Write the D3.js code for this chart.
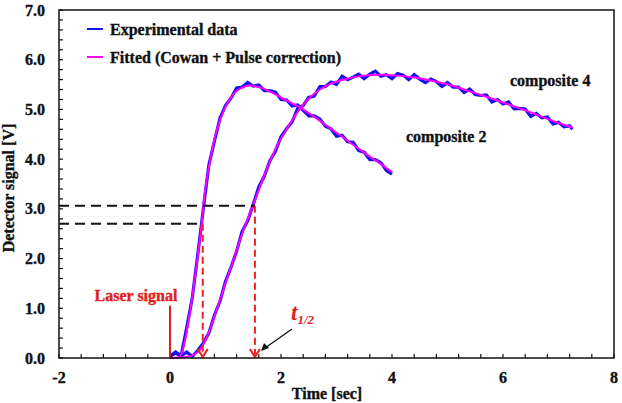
<!DOCTYPE html>
<html lang="en">
<head>
<meta charset="UTF-8">
<title>Detector signal vs time</title>
<script src="https://d3js.org/d3.v7.min.js"></script>
<style>
  body { margin: 0; background: #fff; }
  svg { display: block; font-family: 'Liberation Serif', 'Times New Roman', serif; }
  .tick-label, .lbl { font-size: 16px; font-weight: 700; fill: #111; stroke: #111; stroke-width: 0.35px; }
</style>
</head>
<body>
<svg id="chart" width="622" height="403"></svg>
<script>
// fitted curves (Cowan + pulse correction)
const fitTime2 = [0, 0.15, 0.21, 0.27, 0.35, 0.42, 0.5, 0.57, 0.63, 0.72, 0.8, 0.9, 1.0, 1.1, 1.2, 1.3, 1.45, 1.6, 1.8, 2.0, 2.2, 2.37, 2.6, 2.8, 3.0, 3.2, 3.4, 3.6, 3.8, 4.0];
const fitValue2 = [0, 0, 0.1, 0.36, 0.85, 1.37, 2.05, 2.7, 3.35, 3.95, 4.4, 4.78, 5.05, 5.25, 5.37, 5.44, 5.48, 5.45, 5.36, 5.24, 5.12, 5.02, 4.85, 4.69, 4.53, 4.37, 4.21, 4.05, 3.9, 3.74];

const fitTime4 = [0, 0.3, 0.45, 0.55, 0.7, 0.85, 1.0, 1.15, 1.3, 1.5, 1.7, 1.9, 2.1, 2.3, 2.5, 2.7, 2.9, 3.2, 3.5, 3.8, 4.1, 4.4, 4.7, 5.0, 5.3, 5.6, 5.9, 6.2, 6.5, 6.8, 7.05, 7.25];
const fitValue4 = [0, 0.02, 0.08, 0.18, 0.52, 1.0, 1.5, 2.0, 2.5, 3.08, 3.68, 4.2, 4.6, 4.95, 5.22, 5.4, 5.52, 5.62, 5.68, 5.7, 5.68, 5.64, 5.58, 5.5, 5.4, 5.29, 5.18, 5.06, 4.94, 4.81, 4.71, 4.63];

// experimental (noisy) traces
const expTime2 = [0, 0.1, 0.2, 0.3, 0.4, 0.5, 0.6, 0.7, 0.8, 0.9, 1.0, 1.1, 1.2, 1.3, 1.4, 1.5, 1.6, 1.7, 1.8, 1.9, 2.0,
  2.1, 2.2, 2.3, 2.4, 2.5, 2.6, 2.7, 2.8, 2.9, 3.0, 3.1, 3.2, 3.3, 3.4, 3.5, 3.6, 3.7, 3.8, 3.9, 4.0];
const expValue2 = [0.04, 0.12, 0.05, 0.6, 1.2, 2.08, 3.0, 3.88, 4.36, 4.82, 5.08, 5.23, 5.43, 5.45, 5.54, 5.47, 5.49, 5.38, 5.38, 5.35, 5.2,
  5.19, 5.07, 5.09, 4.98, 4.87, 4.87, 4.81, 4.66, 4.61, 4.46, 4.48, 4.35, 4.34, 4.17, 4.14, 3.99, 3.99, 3.93, 3.77, 3.7];

const expTime4 = [0, 0.1, 0.2, 0.3, 0.4, 0.5, 0.6, 0.7, 0.8, 0.9, 1.0, 1.1, 1.2, 1.3, 1.4, 1.5, 1.6, 1.7, 1.8, 1.9, 2.0,
  2.1, 2.2, 2.3, 2.4, 2.5, 2.6, 2.7, 2.8, 2.9, 3.0, 3.1, 3.2, 3.3, 3.4, 3.5, 3.6, 3.7, 3.8, 3.9, 4.0,
  4.1, 4.2, 4.3, 4.4, 4.5, 4.6, 4.7, 4.8, 4.9, 5.0, 5.1, 5.2, 5.3, 5.4, 5.5, 5.6, 5.7, 5.8, 5.9, 6.0,
  6.1, 6.2, 6.3, 6.4, 6.5, 6.6, 6.7, 6.8, 6.9, 7.0, 7.1, 7.2, 7.25];
const expValue4 = [0.03, 0.1, 0.04, 0.12, 0.03, 0.15, 0.3, 0.5, 0.86, 1.14, 1.54, 1.83, 2.15, 2.55, 2.76, 3.09, 3.44, 3.66, 3.97, 4.16, 4.45,
  4.61, 4.75, 5.02, 5.08, 5.24, 5.27, 5.46, 5.46, 5.55, 5.5, 5.67, 5.6, 5.65, 5.71, 5.62, 5.71, 5.77, 5.67, 5.7, 5.62,
  5.72, 5.69, 5.6, 5.7, 5.61, 5.54, 5.61, 5.56, 5.46, 5.54, 5.45, 5.45, 5.34, 5.41, 5.3, 5.28, 5.29, 5.15, 5.2, 5.11,
  5.15, 5.01, 5.02, 5.01, 4.86, 4.92, 4.83, 4.85, 4.71, 4.74, 4.65, 4.67, 4.6];

const xTicks = [-2, 0, 2, 4, 6, 8];
const yTicks = [0, 1, 2, 3, 4, 5, 6, 7];

// half-rise markers
const halfLevel = [2.7, 3.06];
const halfTime = [0.59, 1.53];
const laserTime = 0;
const laserHeight = 1.05;

const svg = d3.select("#chart");
const x = d3.scaleLinear().domain([-2, 8]).range([59, 614]);
const y = d3.scaleLinear().domain([0, 7]).range([358, 10]);

const toPts = (ts, vs) => ts.map((t, i) => [t, vs[i]]);

// inner ticks
const xMinor = d3.range(-2, 8.001, 0.4);
const yMinor = d3.range(0, 7.001, 0.2);
svg.append("g").selectAll("line").data(xMinor).join("line")
  .attr("x1", d => x(d)).attr("x2", d => x(d))
  .attr("y1", y(0)).attr("y2", y(0) - 4)
  .attr("stroke", "#111").attr("stroke-width", 1.2);
svg.append("g").selectAll("line").data(yMinor).join("line")
  .attr("x1", x(-2)).attr("x2", x(-2) + 4)
  .attr("y1", d => y(d)).attr("y2", d => y(d))
  .attr("stroke", "#111").attr("stroke-width", 1.2);

// tick labels
svg.append("g").selectAll("text").data(xTicks).join("text")
  .attr("class", "tick-label").attr("x", d => x(d)).attr("y", 383)
  .attr("text-anchor", "middle").text(d => d);
svg.append("g").selectAll("text").data(yTicks).join("text")
  .attr("class", "tick-label").attr("x", 45).attr("y", d => y(d) + 5.5)
  .attr("text-anchor", "end").text(d => d3.format(".1f")(d));

// axis titles
svg.append("text").attr("class", "lbl").attr("x", 327).attr("y", 399)
  .attr("text-anchor", "middle").text("Time [sec]");
svg.append("text").attr("class", "lbl")
  .attr("transform", "translate(14,188) rotate(-90)")
  .attr("text-anchor", "middle").text("Detector signal [V]");

// curves
const expLine = d3.line().x(d => x(d[0])).y(d => y(d[1]));
const fitLine = d3.line().x(d => x(d[0])).y(d => y(d[1])).curve(d3.curveMonotoneX);

[toPts(expTime2, expValue2), toPts(expTime4, expValue4)].forEach(pts => {
  svg.append("path").datum(pts).attr("d", expLine)
    .attr("fill", "none").attr("stroke", "#1414f0").attr("stroke-width", 3.2);
});
[toPts(fitTime2, fitValue2), toPts(fitTime4, fitValue4)].forEach(pts => {
  svg.append("path").datum(pts).attr("d", fitLine)
    .attr("fill", "none").attr("stroke", "#ff00ff").attr("stroke-width", 2);
});

// half-rise guides
halfLevel.forEach((v, i) => {
  svg.append("line")
    .attr("x1", x(-2)).attr("x2", x(halfTime[i]))
    .attr("y1", y(v)).attr("y2", y(v))
    .attr("stroke", "#111").attr("stroke-width", 2).attr("stroke-dasharray", "10,6");
  svg.append("line")
    .attr("x1", x(halfTime[i])).attr("x2", x(halfTime[i]))
    .attr("y1", y(v)).attr("y2", y(0) - 2)
    .attr("stroke", "#ee2222").attr("stroke-width", 2).attr("stroke-dasharray", "7,4");
  const ax = x(halfTime[i]), ay = y(0);
  svg.append("path")
    .attr("d", `M${ax - 5},${ay - 9} L${ax},${ay - 1} L${ax + 5},${ay - 9}`)
    .attr("fill", "none").attr("stroke", "#ee2222").attr("stroke-width", 2.2);
});

// laser signal
svg.append("line")
  .attr("x1", x(laserTime)).attr("x2", x(laserTime))
  .attr("y1", y(0)).attr("y2", y(laserHeight))
  .attr("stroke", "#e02020").attr("stroke-width", 2);
svg.append("text").attr("x", 136).attr("y", 301).attr("text-anchor", "middle")
  .attr("font-size", 16).attr("font-weight", 700).attr("fill", "#e02020")
  .attr("stroke", "#e02020").attr("stroke-width", 0.35)
  .text("Laser signal");

// t1/2 label and arrow
const t12 = svg.append("text").attr("x", 291).attr("y", 320)
  .attr("font-size", 23).attr("font-weight", 700).attr("font-style", "italic")
  .attr("fill", "#e02020");
t12.append("tspan").text("t");
t12.append("tspan").attr("font-size", 13).attr("dy", 4).text("1/2");

svg.append("line").attr("x1", 292).attr("y1", 329).attr("x2", 265).attr("y2", 348)
  .attr("stroke", "#111").attr("stroke-width", 1.3);
svg.append("path").attr("d", "M261,351 L264,343 L269,348 Z").attr("fill", "#111");

// series labels
svg.append("text").attr("class", "lbl").attr("x", 510).attr("y", 86).text("composite 4");
svg.append("text").attr("class", "lbl").attr("x", 406).attr("y", 142).text("composite 2");

// legend
const legend = [["Experimental data", "#1414f0"], ["Fitted (Cowan + Pulse correction)", "#ff00ff"]];
legend.forEach((d, i) => {
  const ly = 29 + i * 28;
  svg.append("line").attr("x1", 87).attr("x2", 103).attr("y1", ly).attr("y2", ly)
    .attr("stroke", d[1]).attr("stroke-width", 2);
  svg.append("text").attr("class", "lbl").attr("x", 110).attr("y", ly + 5.5).text(d[0]);
});

// frame
svg.append("rect").attr("x", x(-2)).attr("y", y(7))
  .attr("width", x(8) - x(-2)).attr("height", y(0) - y(7))
  .attr("fill", "none").attr("stroke", "#111").attr("stroke-width", 1.5);
</script>
</body>
</html>
